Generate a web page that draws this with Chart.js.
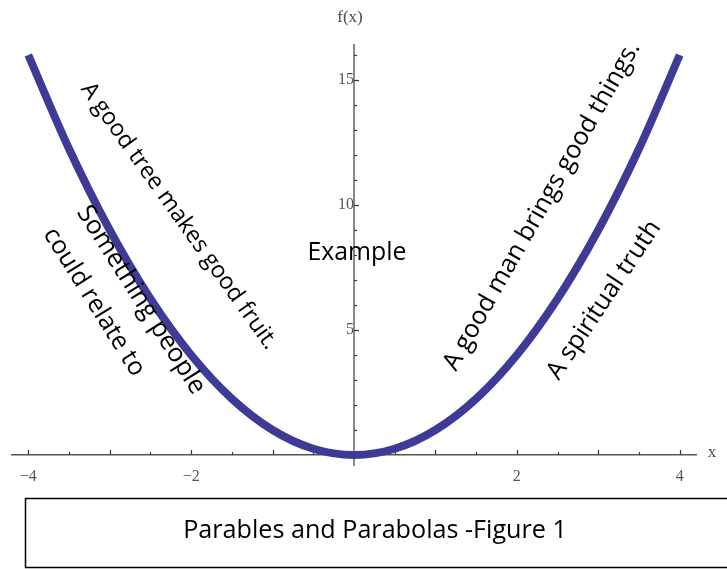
<!DOCTYPE html>
<html>
<head>
<meta charset="utf-8">
<script src="https://cdn.jsdelivr.net/npm/chart.js@4/dist/chart.umd.min.js"></script>
<style>
  body { margin: 0; background: #fff; }
  #wrap { width: 727px; height: 569px; position: relative; }
</style>
</head>
<body>
<div id="wrap"><canvas id="myChart"></canvas></div>
<script>
// curve
var xValues = [-4, -3.5, -3, -2.5, -2, -1.5, -1, -0.5, 0, 0.5, 1, 1.5, 2, 2.5, 3, 3.5, 4];
var fValues = [16, 12.25, 9, 6.25, 4, 2.25, 1, 0.25, 0, 0.25, 1, 2.25, 4, 6.25, 9, 12.25, 16];

// axis ticks
var xTickValues = [-4, -3.5, -3, -2.5, -2, -1.5, -1, -0.5, 0.5, 1, 1.5, 2, 2.5, 3, 3.5, 4];
var xTickLabels = [-4, -2, 2, 4];
var yTickValues = [1, 2, 3, 4, 5, 6, 7, 8, 9, 10, 11, 12, 13, 14, 15, 16];
var yTickLabels = [5, 10, 15];

// text boxes laid over the plot
var notes = [
  {text: 'A good tree makes good fruit.', x: 179, y: 216, angle: 54.5, len: 322},
  {text: 'Something people', x: 141, y: 300, angle: 57.5, len: 218},
  {text: 'could relate to', x: 94, y: 302, angle: 58, len: 170},
  {text: 'A good man brings good things.', x: 542, y: 206, angle: -60.4, len: 374},
  {text: 'A spiritual truth', x: 604, y: 300, angle: -56.3, len: 185},
  {text: 'Example', x: 357, y: 253, angle: 0, len: 99}
];
var caption = 'Parables and Parabolas -Figure 1';

var points = [];
for (var i = 0; i < xValues.length; i++) {
  points.push({x: xValues[i], y: fValues[i]});
}

function fitFont(ctx, text, len) {
  ctx.font = '100px "Open Sans"';
  var w = ctx.measureText(text).width;
  return 100 * len / w;
}

var overlay = {
  id: 'overlay',
  beforeDatasetsDraw: function (chart) {
    var ctx = chart.ctx;
    var xs = chart.scales.x, ys = chart.scales.y;
    var x0 = xs.getPixelForValue(0), y0 = ys.getPixelForValue(0);
    ctx.save();
    ctx.strokeStyle = '#333';
    ctx.lineWidth = 1.2;
    xTickValues.forEach(function (v) {
      var px = Math.round(xs.getPixelForValue(v)) + 0.5;
      var l = Number.isInteger(v) ? 5 : 3;
      ctx.beginPath();
      ctx.moveTo(px, y0);
      ctx.lineTo(px, y0 - l);
      ctx.stroke();
    });
    yTickValues.forEach(function (v) {
      var py = Math.round(ys.getPixelForValue(v)) + 0.5;
      var l = v % 5 === 0 ? 5 : 3;
      ctx.beginPath();
      ctx.moveTo(x0, py);
      ctx.lineTo(x0 + l, py);
      ctx.stroke();
    });
    ctx.restore();
  },
  afterDraw: function (chart) {
    var ctx = chart.ctx;
    ctx.save();
    // axis names
    ctx.fillStyle = '#4a4a4a';
    ctx.font = '17px "Liberation Serif"';
    ctx.textAlign = 'center';
    ctx.textBaseline = 'middle';
    ctx.fillText('f(x)', 350, 18);
    ctx.fillText('x', 712, 453);

    // rotated notes
    ctx.fillStyle = '#000';
    notes.forEach(function (n) {
      var size = fitFont(ctx, n.text, n.len);
      ctx.save();
      ctx.translate(n.x, n.y);
      ctx.rotate(n.angle * Math.PI / 180);
      ctx.font = size + 'px "Open Sans"';
      ctx.textAlign = 'center';
      ctx.textBaseline = 'middle';
      ctx.fillText(n.text, 0, 0);
      ctx.restore();
    });

    // caption box
    ctx.strokeStyle = '#000';
    ctx.lineWidth = 1.5;
    ctx.strokeRect(25.5, 498.5, 710, 69);
    var cs = fitFont(ctx, caption, 384);
    ctx.font = cs + 'px "Open Sans"';
    ctx.textAlign = 'center';
    ctx.textBaseline = 'middle';
    ctx.fillText(caption, 375, 531);
    ctx.restore();
  }
};

var ctx = document.getElementById('myChart');

var lineChart = new Chart(ctx, {
  type: 'scatter',
  data: {
    datasets: [{
      data: points,
      showLine: true,
      borderColor: '#3d3b96',
      borderWidth: 8,
      borderCapStyle: 'butt',
      cubicInterpolationMode: 'monotone',
      pointRadius: 0,
      clip: false
    }]
  },
  options: {
    responsive: true,
    maintainAspectRatio: false,
    animation: false,
    layout: {padding: {left: 12, right: 31, top: 45, bottom: 104}},
    plugins: {
      legend: {display: false},
      tooltip: {enabled: false}
    },
    scales: {
      x: {
        type: 'linear',
        position: {y: 0},
        min: -4.2,
        max: 4.2,
        afterBuildTicks: function (s) {
          s.ticks = xTickValues.map(function (v) { return {value: v}; });
        },
        grid: {drawOnChartArea: false, drawTicks: false},
        border: {display: true, color: '#555', width: 1.5},
        ticks: {
          autoSkip: false,
          maxRotation: 0,
          padding: 12,
          color: '#555',
          font: {family: 'Liberation Serif', size: 16},
          callback: function (v) {
            if (xTickLabels.indexOf(v) < 0) return '';
            return v < 0 ? '\u2212' + Math.abs(v) : String(v);
          }
        }
      },
      y: {
        type: 'linear',
        position: {x: 0},
        min: -0.4,
        max: 16.4,
        afterBuildTicks: function (s) {
          s.ticks = yTickValues.map(function (v) { return {value: v}; });
        },
        grid: {drawOnChartArea: false, drawTicks: false},
        border: {display: true, color: '#8a8a8a', width: 2},
        ticks: {
          autoSkip: false,
          padding: 9,
          color: '#555',
          font: {family: 'Liberation Serif', size: 16},
          callback: function (v) {
            return yTickLabels.indexOf(v) < 0 ? '' : String(v);
          }
        }
      }
    }
  },
  plugins: [overlay]
});
</script>
</body>
</html>
